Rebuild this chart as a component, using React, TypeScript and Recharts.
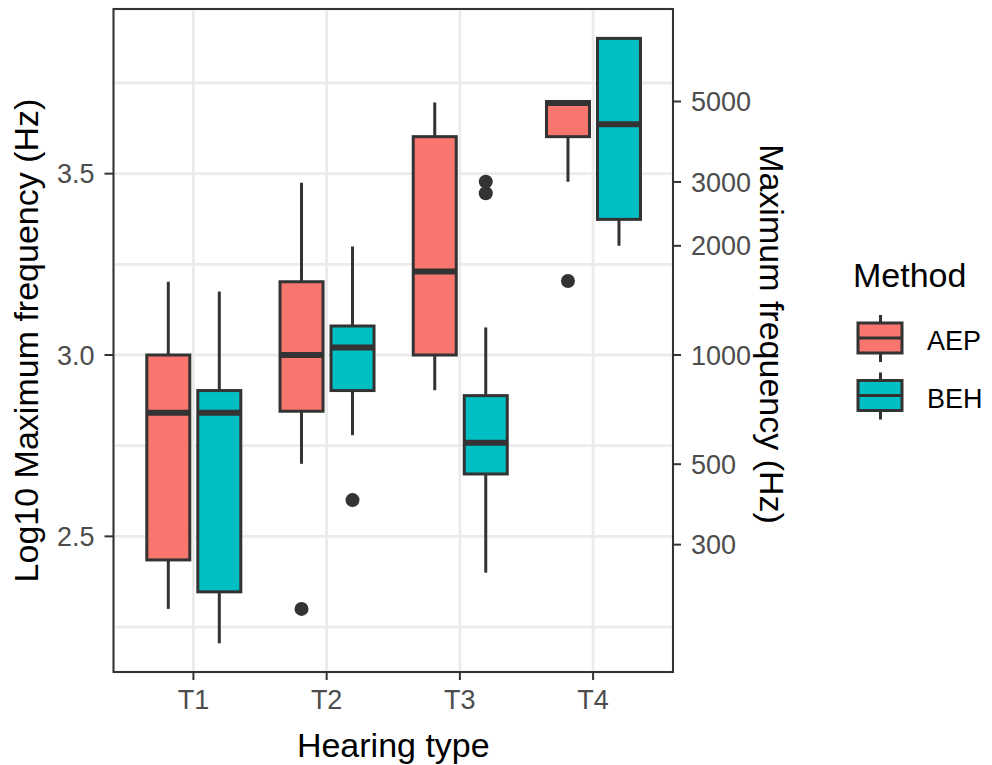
import { ComposedChart, Bar, XAxis, YAxis, CartesianGrid } from 'recharts';

const hearingTypes = ['T1', 'T2', 'T3', 'T4'];
const methods = ['AEP', 'BEH'];
const methodColors = ['#F8766D', '#00BFC4'];

// box stats in log10(Hz)
const aepLower = [2.3, 2.7, 2.903, 3.478];
const aepQ1 = [2.435, 2.845, 3.0, 3.602];
const aepMedian = [2.841, 3.0, 3.23, 3.695];
const aepQ3 = [3.0, 3.202, 3.602, 3.699];
const aepUpper = [3.202, 3.475, 3.696, 3.699];
const aepOutliers = [[], [2.3], [], [3.204]];

const behLower = [2.205, 2.779, 2.4, 3.301];
const behQ1 = [2.347, 2.902, 2.672, 3.374];
const behMedian = [2.841, 3.021, 2.758, 3.636];
const behQ3 = [2.902, 3.08, 2.888, 3.873];
const behUpper = [3.175, 3.299, 3.076, 3.873];
const behOutliers = [[], [2.6], [3.478, 3.446], []];

const leftTicks = [2.25, 2.5, 2.75, 3, 3.25, 3.5, 3.75];
const leftLabelled = [2.5, 3, 3.5];
const rightTicksHz = [300, 500, 1000, 2000, 3000, 5000];
const yDomain = [2.126, 3.954];

const FONT = '"Liberation Sans", Arial, Helvetica, sans-serif';
const INK = '#333333';

const stats: Record<string, any> = {
  AEP: { lower: aepLower, q1: aepQ1, median: aepMedian, q3: aepQ3, upper: aepUpper, outliers: aepOutliers },
  BEH: { lower: behLower, q1: behQ1, median: behMedian, q3: behQ3, upper: behUpper, outliers: behOutliers },
};

const data = hearingTypes.map((type, i) => ({
  type,
  i,
  AEP: [aepQ1[i], aepQ3[i]],
  BEH: [behQ1[i], behQ3[i]],
}));

function boxShape(method: string, fill: string) {
  return (props: any) => {
    const { x, y, width, height, payload } = props;
    const s = stats[method];
    const i = payload.i;
    const top = Math.min(y, y + height);
    const h = Math.abs(height);
    const perUnit = h / (s.q3[i] - s.q1[i]);
    const toY = (v: number) => top + (s.q3[i] - v) * perUnit;
    const cx = x + width / 2;
    return (
      <g>
        <line x1={cx} x2={cx} y1={toY(s.upper[i])} y2={toY(s.q3[i])} stroke={INK} strokeWidth={3} />
        <line x1={cx} x2={cx} y1={toY(s.q1[i])} y2={toY(s.lower[i])} stroke={INK} strokeWidth={3} />
        <rect x={x} y={top} width={width} height={h} fill={fill} stroke={INK} strokeWidth={3} />
        <line x1={x} x2={x + width} y1={toY(s.median[i])} y2={toY(s.median[i])} stroke={INK} strokeWidth={6} />
        {s.outliers[i].map((v: number, k: number) => (
          <circle key={k} cx={cx} cy={toY(v)} r={7} fill={INK} />
        ))}
      </g>
    );
  };
}

function LeftTick(props: any) {
  const { x, y, payload } = props;
  if (!leftLabelled.includes(payload.value)) return null;
  return (
    <g>
      <line x1={x + 10} x2={x + 19} y1={y} y2={y} stroke={INK} strokeWidth={2} />
      <text x={x} y={y} dy="0.355em" textAnchor="end" fill="#4D4D4D" fontSize={27}>
        {payload.value.toFixed(1)}
      </text>
    </g>
  );
}

export default function App() {
  return (
    <div style={{ position: 'absolute', left: 0, top: 0, width: 992, height: 765, background: '#fff', fontFamily: FONT }}>
      <ComposedChart
        width={992}
        height={765}
        data={data}
        margin={{ top: 9, right: 239, left: 13.5, bottom: 43 }}
        barGap={8}
      >
        <CartesianGrid yAxisId="left" stroke="#EBEBEB" strokeWidth={2.8} />
        <XAxis
          dataKey="type"
          padding={{ left: 13.3, right: 13.3 }}
          height={50}
          tickSize={8}
          tickMargin={10}
          axisLine={false}
          tickLine={{ stroke: INK, strokeWidth: 2 }}
          tick={{ fill: '#4D4D4D', fontSize: 27 }}
          interval={0}
        />
        <YAxis
          yAxisId="left"
          type="number"
          domain={yDomain}
          ticks={leftTicks}
          allowDataOverflow
          interval={0}
          width={100}
          tickSize={9}
          tickMargin={10}
          axisLine={false}
          tickLine={false}
          tick={<LeftTick />}
        />
        <YAxis
          yAxisId="right"
          orientation="right"
          type="number"
          domain={yDomain}
          ticks={rightTicksHz.map((hz) => Math.log10(hz))}
          tickFormatter={(v: number) => String(Math.round(Math.pow(10, v)))}
          allowDataOverflow
          interval={0}
          width={80}
          tickSize={8}
          tickMargin={10}
          axisLine={false}
          tickLine={{ stroke: INK, strokeWidth: 2 }}
          tick={{ fill: '#4D4D4D', fontSize: 27 }}
        />
        {methods.map((m, k) => (
          <Bar
            key={m}
            yAxisId="left"
            dataKey={m}
            barSize={43}
            fill={methodColors[k]}
            shape={boxShape(m, methodColors[k])}
            isAnimationActive={false}
          />
        ))}
      </ComposedChart>
      <svg width={992} height={765} style={{ position: 'absolute', left: 0, top: 0, pointerEvents: 'none' }}>
        <rect x={113.5} y={9} width={559.5} height={663} fill="none" stroke={INK} strokeWidth={2} />
        <text x={393.3} y={756.7} textAnchor="middle" fontSize={34} fill="#000">Hearing type</text>
        <text transform="translate(38,340.5) rotate(-90)" textAnchor="middle" fontSize={34} fill="#000">
          Log10 Maximum frequency (Hz)
        </text>
        <text transform="translate(760,334) rotate(90)" textAnchor="middle" fontSize={34} fill="#000">
          Maximum frequency (Hz)
        </text>
        <text x={853} y={287} fontSize={34} fill="#000">Method</text>
        {methods.map((m, k) => {
          const oy = 323 + k * 57.5;
          return (
            <g key={m}>
              <line x1={880.5} x2={880.5} y1={oy - 8} y2={oy + 39} stroke={INK} strokeWidth={3} />
              <rect x={858} y={oy} width={44} height={30} fill={methodColors[k]} stroke={INK} strokeWidth={3} />
              <line x1={858} x2={902} y1={oy + 15} y2={oy + 15} stroke={INK} strokeWidth={3} />
              <text x={927} y={oy + 27} fontSize={27} fill="#000">{m}</text>
            </g>
          );
        })}
      </svg>
    </div>
  );
}
